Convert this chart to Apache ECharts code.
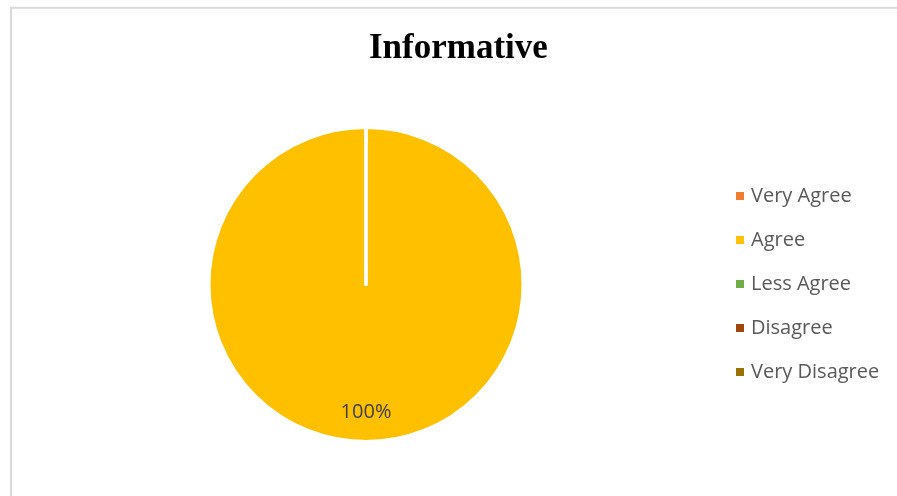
<!DOCTYPE html>
<html>
<head>
<meta charset="utf-8">
<script src="https://cdn.jsdelivr.net/npm/echarts@6/dist/echarts.min.js"></script>
<style>
  html, body { margin: 0; padding: 0; background: #ffffff; }
  #chart { width: 897px; height: 496px; }
</style>
</head>
<body>
<div id="chart"></div>
<script>
// Survey responses for "Informative"
const categories = ['Very Agree', 'Agree', 'Less Agree', 'Disagree', 'Very Disagree'];
const values = [0, 100, 0, 0, 0];
const palette = ['#ED7D31', '#FFC000', '#70AD47', '#9E480E', '#997300'];

const chart = echarts.init(document.getElementById('chart'), null, { renderer: 'canvas' });

const pieData = categories.map((name, i) => ({ name: name, value: values[i] }));

chart.setOption({
  animation: false,
  color: palette,
  graphic: [{
    type: 'rect',
    silent: true,
    shape: { x: 11, y: 7.7, width: 1000, height: 1000 },
    style: { fill: 'none', stroke: '#d9d9d9', lineWidth: 2 }
  }],
  title: {
    text: 'Informative',
    left: 364,
    top: 26,
    padding: 5,
    textStyle: {
      fontFamily: 'Liberation Serif',
      fontWeight: 'bold',
      fontSize: 35,
      color: '#000000'
    }
  },
  legend: {
    orient: 'vertical',
    left: 731,
    top: 181,
    padding: 5,
    icon: 'rect',
    itemWidth: 8,
    itemHeight: 8,
    itemGap: 24,
    selectedMode: false,
    itemStyle: { borderWidth: 0 },
    data: categories,
    textStyle: {
      fontFamily: 'Open Sans',
      fontSize: 20,
      lineHeight: 20,
      color: '#595959',
      padding: [0, 0, 0, 2]
    }
  },
  series: [{
    type: 'pie',
    center: [366, 284.5],
    radius: 157,
    startAngle: 90,
    clockwise: true,
    avoidLabelOverlap: false,
    itemStyle: { borderColor: '#ffffff', borderWidth: 3 },
    label: {
      show: true,
      position: 'inside',
      offset: [0, 46],
      fontFamily: 'Open Sans',
      fontSize: 20,
      color: '#404040',
      formatter: p => (p.value > 0 ? p.percent + '%' : '')
    },
    labelLine: { show: false },
    emphasis: { disabled: true },
    data: pieData
  }]
});
</script>
</body>
</html>
